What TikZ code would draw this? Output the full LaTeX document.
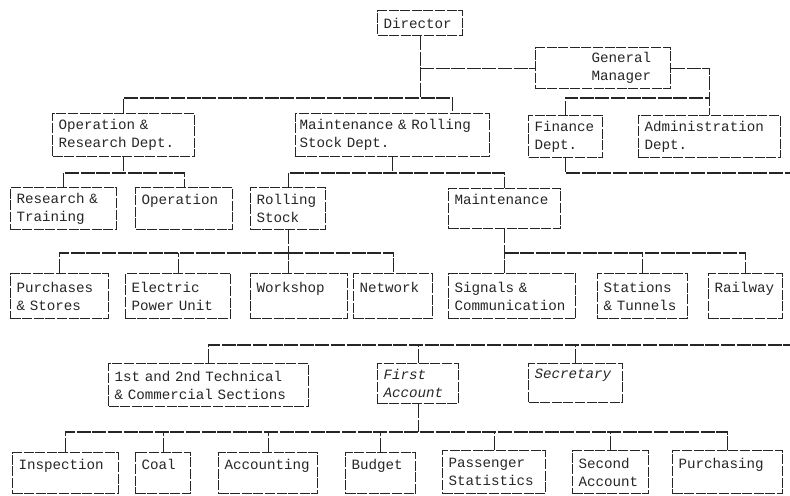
\documentclass[tikz,border=0pt]{standalone}
\usepackage{fontspec}
\setmonofont{Liberation Mono}
\usepackage{tikz}
\usepackage{xcolor}
\definecolor{Ink}{HTML}{262626}
\newcommand{\orgfont}{\ttfamily\fontsize{7.1}{9}\selectfont}
\tikzset{
  unit/.style={
    draw=Ink,line width=0.55pt,dash pattern=on 5pt off 0.8pt,
    anchor=north west,inner xsep=3pt,inner ysep=2pt,
    align=left,font=\orgfont,text=Ink,minimum height=21.5pt
  },
  link/.style={draw=Ink,line width=0.55pt,dash pattern=on 7pt off 0.8pt}
}

\begin{document}
\begin{tikzpicture}[x=0.5pt,y=-0.5pt]
      \useasboundingbox (0,0) rectangle (790,495);
      \node[unit,text width=36.5pt,minimum height=12.5pt] (director) at (377,10) {Director};
      \node[unit,text width=61.5pt,minimum height=20.5pt] (gm) at (535,47) {\hspace*{25pt}General\\\hspace*{25pt}Manager};

      \node[unit,text width=65pt] (opr) at (52,113) {Operation \&\\Research Dept.};
      \node[unit,text width=93pt,inner xsep=2pt] (mrs) at (295,113) {Maintenance \& Rolling\\Stock Dept.};
      \node[unit,text width=31pt,minimum height=21pt] (fin) at (528,115) {Finance\\Dept.};
      \node[unit,text width=65pt,minimum height=21pt] (adm) at (638,115) {Administration\\Dept.};

      \node[unit,text width=47pt,minimum height=21pt] (rt) at (10,187) {Research \&\\Training};
      \node[unit,text width=42.5pt,minimum height=21pt] (op) at (135,187) {Operation\\\phantom{X}};
      \node[unit,text width=31.5pt,minimum height=21pt] (rs) at (250,187) {Rolling\\Stock};
      \node[unit,text width=50pt,minimum height=20pt] (mt) at (448,188) {Maintenance\\\phantom{X}};

      \node[unit,text width=43pt,minimum height=22.5pt] (ps) at (10,273) {Purchases\\\& Stores};
      \node[unit,text width=46.5pt,minimum height=22.5pt] (ep) at (125,273) {Electric\\Power Unit};
      \node[unit,text width=42.5pt,minimum height=22.5pt] (ws) at (250,273) {Workshop\\\phantom{X}};
      \node[unit,text width=33.5pt,minimum height=22.5pt] (nw) at (353,273) {Network\\\phantom{X}};
      \node[unit,text width=57.5pt,minimum height=22.5pt] (sc) at (448,273) {Signals \&\\Communication};
      \node[unit,text width=39pt,minimum height=22.5pt] (st) at (597,273) {Stations\\\& Tunnels};
      \node[unit,text width=31pt,minimum height=22.5pt] (rw) at (708,273) {Railway\\\phantom{X}};

      \node[unit,text width=94pt] (tc) at (108,363) {1st and 2nd Technical\\\& Commercial Sections};
      \node[unit,text width=34.5pt,minimum height=20pt,font=\orgfont\itshape] (fa) at (377,363) {First\\Account};
      \node[unit,text width=41pt,minimum height=19.5pt,font=\orgfont\itshape] (sec) at (528,363) {Secretary\\\phantom{X}};

      \node[unit,text width=47pt,minimum height=20.5pt] (ins) at (12,452) {Inspection\\\phantom{X}};
      \node[unit,text width=21.5pt,minimum height=20.5pt] (coal) at (135,452) {Coal\\\phantom{X}};
      \node[unit,text width=43.5pt,minimum height=20.5pt] (acc) at (218,452) {Accounting\\\phantom{X}};
      \node[unit,text width=29pt,minimum height=20.5pt] (bud) at (345,452) {Budget\\\phantom{X}};
      \node[unit,text width=45.5pt,minimum height=21.5pt] (pas) at (442,450) {Passenger\\Statistics};
      \node[unit,text width=32pt,minimum height=21.5pt] (sa) at (572,450) {Second\\Account};
      \node[unit,text width=49pt,minimum height=21.5pt] (pur) at (672,450) {Purchasing\\\phantom{X}};

      \coordinate (lvl1) at (0,98);
      \coordinate (lvl2) at (0,173);
      \coordinate (lvl3) at (0,253);
      \coordinate (lvl5) at (0,432);
      \coordinate (finout) at (790,173);
      \coordinate (lowout) at (790,345);

      \draw[link] (director.south) -- (director.south |- lvl1);
      \draw[link] (director.south |- gm.west) -- (gm.west);
      \draw[link] (opr.north) -- (opr.north |- lvl1) -| ([xshift=30pt]mrs.north);
      \draw[link] (gm.east) -| (adm.north);
      \draw[link] (fin.north) |- (adm.north |- lvl1);
      \draw[link] (fin.south) |- (finout);

      \draw[link] (opr.south) -- (opr.south |- lvl2);
      \draw[link] (rt.north) |- (op.north |- lvl2) -- (op.north);
      \draw[link] (mrs.south) -- (mrs.south |- lvl2);
      \draw[link] (rs.north) |- (mt.north |- lvl2) -- (mt.north);

      \draw[link] (rs.south) -- (rs.south |- ws.north);
      \draw[link] (ps.north) |- (nw.north |- lvl3) -- (nw.north);
      \draw[link] (ep.north) -- (ep.north |- lvl3);
      \draw[link] (mt.south) -- (mt.south |- sc.north);
      \draw[link] (mt.south |- lvl3) -| (rw.north);
      \draw[link] (st.north) -- (st.north |- lvl3);

      \draw[link] (tc.north) |- (lowout);
      \draw[link] (fa.north) -- (fa.north |- lowout);
      \draw[link] (sec.north) -- (sec.north |- lowout);

      \draw[link] (fa.south) -- (fa.south |- lvl5);
      \draw[link] (ins.north) |- (pur.north |- lvl5) -- (pur.north);
      \draw[link] (coal.north) -- (coal.north |- lvl5);
      \draw[link] (acc.north) -- (acc.north |- lvl5);
      \draw[link] (bud.north) -- (bud.north |- lvl5);
      \draw[link] (pas.north) -- (pas.north |- lvl5);
      \draw[link] (sa.north) -- (sa.north |- lvl5);
    \end{tikzpicture}
\end{document}
